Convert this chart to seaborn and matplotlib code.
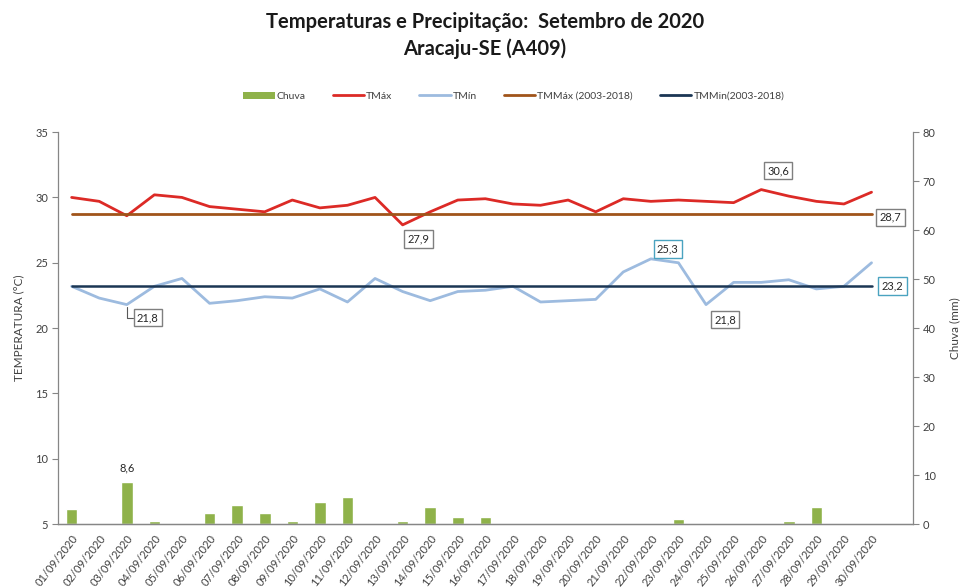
import matplotlib
matplotlib.use("Agg")
import pandas as pd
import matplotlib.pyplot as plt
import seaborn as sns
from matplotlib.patches import Patch
from matplotlib.lines import Line2D

# dados (Aracaju-SE, A409, setembro 2020)
dias = ["01/09/2020", "02/09/2020", "03/09/2020", "04/09/2020", "05/09/2020",
        "06/09/2020", "07/09/2020", "08/09/2020", "09/09/2020", "10/09/2020",
        "11/09/2020", "12/09/2020", "13/09/2020", "14/09/2020", "15/09/2020",
        "16/09/2020", "17/09/2020", "18/09/2020", "19/09/2020", "20/09/2020",
        "21/09/2020", "22/09/2020", "23/09/2020", "24/09/2020", "25/09/2020",
        "26/09/2020", "27/09/2020", "28/09/2020", "29/09/2020", "30/09/2020"]

chuva = [3.1, 0, 8.6, 0.7, 0, 2.3, 3.9, 2.3, 0.7, 4.5,
         5.5, 0, 0.7, 3.6, 1.4, 1.4, 0, 0, 0, 0,
         0, 0, 1.0, 0, 0, 0, 0.7, 3.6, 0, 0]

tmax = [30.0, 29.7, 28.6, 30.2, 30.0, 29.3, 29.1, 28.9, 29.8, 29.2,
        29.4, 30.0, 27.9, 28.9, 29.8, 29.9, 29.5, 29.4, 29.8, 28.9,
        29.9, 29.7, 29.8, 29.7, 29.6, 30.6, 30.1, 29.7, 29.5, 30.4]

tmin = [23.2, 22.3, 21.8, 23.2, 23.8, 21.9, 22.1, 22.4, 22.3, 23.0,
        22.0, 23.8, 22.8, 22.1, 22.8, 22.9, 23.2, 22.0, 22.1, 22.2,
        24.3, 25.3, 25.0, 21.8, 23.5, 23.5, 23.7, 23.0, 23.2, 25.0]

tmmax_clim = 28.7
tmmin_clim = 23.2

df = pd.DataFrame({
    "dia": range(len(dias)),
    "data": dias,
    "chuva": chuva,
    "tmax": tmax,
    "tmin": tmin,
})
df["tmmax"] = tmmax_clim
df["tmmin"] = tmmin_clim

verde = "#8fb24a"
vermelho = "#dc2a26"
azul_claro = "#9dbbdf"
marrom = "#a0541a"
azul_escuro = "#1b3654"
cinza = "#868686"
texto = "#404040"

sns.set_style("white")
plt.rcParams["font.family"] = ["Lato", "DejaVu Sans"]

fig = plt.figure(figsize=(9.64, 5.87), dpi=100)
ax = fig.add_axes([0.060, 0.107, 0.887, 0.668])
ax2 = ax.twinx()

# chuva no eixo secundario
sns.barplot(data=df, x="dia", y="chuva", color=verde, width=0.42,
            saturation=1, ax=ax2)

# temperaturas no eixo principal
sns.lineplot(data=df, x="dia", y="tmax", color=vermelho, lw=2.0, ax=ax)
sns.lineplot(data=df, x="dia", y="tmin", color=azul_claro, lw=2.0, ax=ax)
sns.lineplot(data=df, x="dia", y="tmmax", color=marrom, lw=2.0, ax=ax)
sns.lineplot(data=df, x="dia", y="tmmin", color=azul_escuro, lw=1.8, ax=ax)
for ln in ax.lines:
    ln.set_solid_joinstyle("round")
    ln.set_solid_capstyle("round")

ax.set_zorder(2)
ax.patch.set_visible(False)

ax.set_xlim(-0.5, 30.5)
ax2.set_xlim(-0.5, 30.5)
ax.set_ylim(5, 35)
ax.set_yticks([5, 10, 15, 20, 25, 30, 35])
ax2.set_ylim(0, 80)
ax2.set_yticks(range(0, 81, 10))

ax.set_xticks(range(len(dias)))
ax.set_xticklabels(dias, rotation=52, ha="right", rotation_mode="anchor",
                   fontsize=8, color=texto)
ax.set_xticks([i - 0.5 for i in range(32)], minor=True)
ax.tick_params(axis="x", which="major", length=0, pad=6)
ax.tick_params(axis="x", which="minor", length=4, color=cinza, direction="out")
ax.tick_params(axis="y", length=4, color=cinza, direction="out",
               labelsize=8, labelcolor=texto, pad=3)
ax2.tick_params(axis="y", length=4, color=cinza, direction="out",
                labelsize=8, labelcolor=texto, pad=3)
ax2.tick_params(axis="x", bottom=False, labelbottom=False)

for a in (ax, ax2):
    for s in a.spines.values():
        s.set_color(cinza)
        s.set_linewidth(0.9)
    a.spines["top"].set_visible(False)
ax.spines["right"].set_visible(False)
ax2.spines["left"].set_visible(False)

ax.set_xlabel("")
ax2.set_xlabel("")
ax.set_ylabel("TEMPERATURA (°C)", fontsize=8.5, color=texto, labelpad=8)
ax2.set_ylabel("Chuva (mm)", fontsize=8.5, color=texto, labelpad=10)


def rotulo(x, y, txt, dx, dy, cor="#7f7f7f", guia=False):
    seta = None
    if guia:
        seta = dict(arrowstyle="-", color="#595959", lw=0.8,
                    connectionstyle="angle,angleA=0,angleB=90,rad=0",
                    shrinkA=0, shrinkB=2)
    ax.annotate(txt, xy=(x, y), xytext=(dx, dy), textcoords="offset pixels",
                ha="center", va="center", fontsize=8, color="#262626",
                bbox=dict(boxstyle="square,pad=0.3", fc="white", ec=cor, lw=1),
                arrowprops=seta, zorder=5)


rotulo(2, tmin[2], "21,8", 21, -13, guia=True)
rotulo(12, tmax[12], "27,9", 16, -14)
rotulo(25, tmax[25], "30,6", 17, 19)
rotulo(21, tmin[21], "25,3", 17, 10, cor="#4aa3c0")
rotulo(23, tmin[23], "21,8", 19, -15)
rotulo(29, tmmax_clim, "28,7", 19, -3)
rotulo(29, tmmin_clim, "23,2", 21, 0, cor="#4aa3c0")

ax2.annotate("8,6", xy=(2, chuva[2]), xytext=(0, 14), textcoords="offset pixels",
             ha="center", va="center", fontsize=8, color="#262626")

fig.text(0.503, 0.962, "Temperaturas e Precipitação:  Setembro de 2020",
         ha="center", va="center", fontsize=14.5, fontweight="bold", color="#1a1a1a")
fig.text(0.503, 0.917, "Aracaju-SE (A409)",
         ha="center", va="center", fontsize=14.5, fontweight="bold", color="#1a1a1a")

handles = [
    Patch(facecolor=verde, edgecolor="none", label="Chuva"),
    Line2D([], [], color=vermelho, lw=2, label="TMáx"),
    Line2D([], [], color=azul_claro, lw=2, label="TMín"),
    Line2D([], [], color=marrom, lw=2, label="TMMáx (2003-2018)"),
    Line2D([], [], color=azul_escuro, lw=2, label="TMMin(2003-2018)"),
]
fig.legend(handles=handles, loc="center", bbox_to_anchor=(0.533, 0.836),
           ncol=5, frameon=False, fontsize=7.5, handlelength=3,
           handletextpad=0.2, columnspacing=2.6, labelcolor=texto)

fig.savefig("out.png", dpi=100)
